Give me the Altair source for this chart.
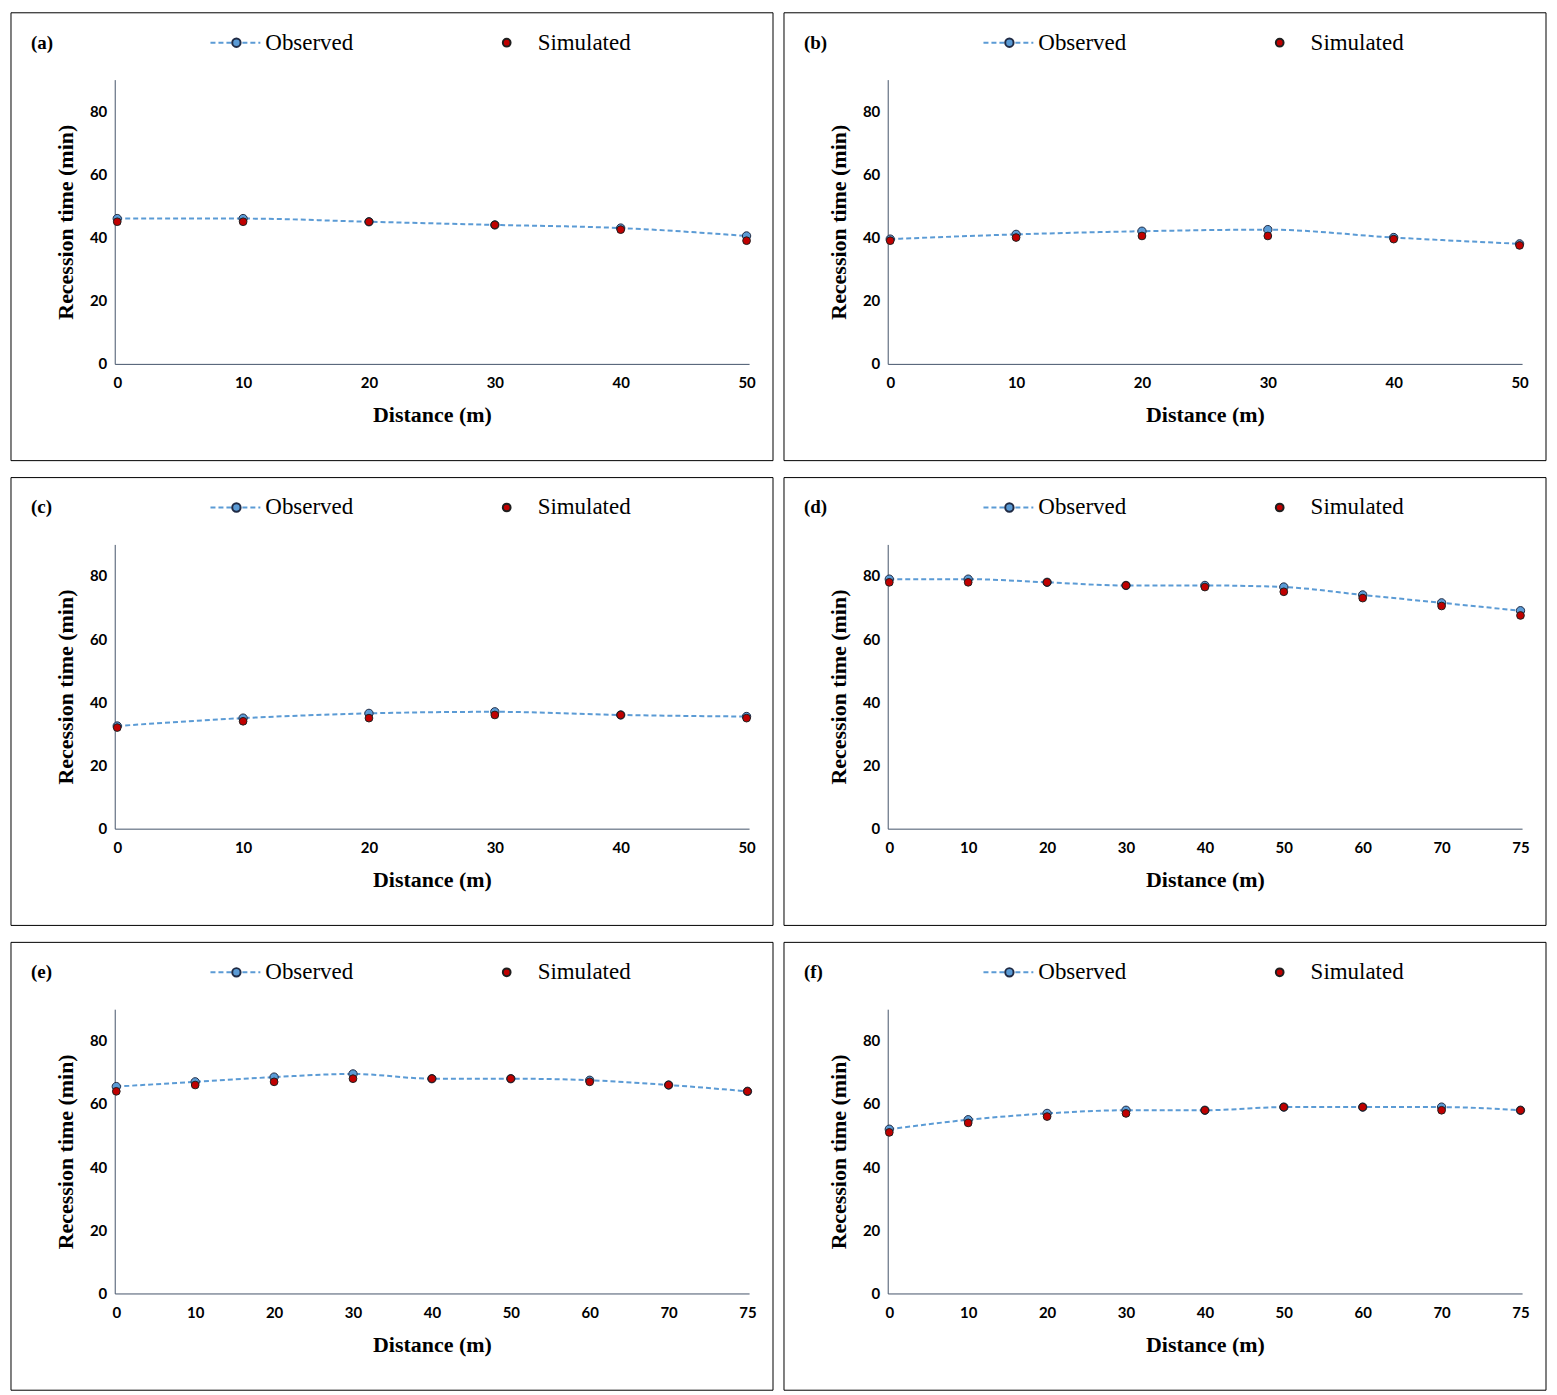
import altair as alt
import pandas as pd

# Valores (minutos de recesión por distancia)
DIST_50 = ["0", "10", "20", "30", "40", "50"]
DIST_75 = ["0", "10", "20", "30", "40", "50", "60", "70", "75"]

OBS_A = [46, 46, 45, 44, 43, 40.5]
SIM_A = [45, 45, 45, 44, 42.5, 39]
OBS_B = [39.5, 41, 42, 42.5, 40, 38]
SIM_B = [39, 40, 40.5, 40.5, 39.5, 37.5]
OBS_C = [32.5, 35, 36.5, 37, 36, 35.5]
SIM_C = [32, 34, 35, 36, 36, 35]
OBS_D = [79, 79, 78, 77, 77, 76.5, 74, 71.5, 69]
SIM_D = [78, 78, 78, 77, 76.5, 75, 73, 70.5, 67.5]
OBS_E = [65.5, 67, 68.5, 69.5, 68, 68, 67.5, 66, 64]
SIM_E = [64, 66, 67, 68, 68, 68, 67, 66, 64]
OBS_F = [52, 55, 57, 58, 58, 59, 59, 59, 58]
SIM_F = [51, 54, 56, 57, 58, 59, 59, 58, 58]

BLUE = "#5b9bd5"
RED = "#c00000"
W, H = 636, 285
SANS = "Lato"
SERIF = "Liberation Serif"


def panel(label, dist, obs, sim):
    df = pd.DataFrame({"d": dist, "obs": obs, "sim": sim})
    x = alt.X("d:O", sort=dist, title="Distance (m)",
              scale=alt.Scale(type="point", padding=0.02),
              axis=alt.Axis(labelAngle=0, ticks=False, domainColor="#44546a",
                            labelFont=SANS, labelFontWeight="bold", labelFontSize=15,
                            labelColor="black", labelPadding=12, titleFont=SERIF,
                            titleFontSize=22, titleFontWeight="bold", titlePadding=14))
    y_axis = alt.Axis(values=list(range(0, 91, 10)), ticks=False, grid=False,
                      labelOverlap=False, domainColor="#44546a", labelFont=SANS,
                      labelFontWeight="bold", labelFontSize=15, labelColor="black",
                      labelPadding=8, titleFont=SERIF, titleFontSize=22,
                      titleFontWeight="bold", titlePadding=12)
    base = alt.Chart(df)
    line = base.mark_line(color=BLUE, strokeDash=[5, 3], strokeWidth=2,
                          interpolate="monotone").encode(
        x=x, y=alt.Y("obs:Q", title="Recession time (min)",
                     scale=alt.Scale(domain=[0, 90]), axis=y_axis))
    pts_o = base.mark_circle(size=70, color=BLUE, opacity=1, stroke="#1f2a44",
                             strokeWidth=1).encode(x=x, y="obs:Q")
    pts_s = base.mark_circle(size=60, color=RED, opacity=1, stroke="#1f1f1f",
                             strokeWidth=1).encode(x=x, y="sim:Q")

    one = pd.DataFrame({"k": [0]})
    lg = alt.Chart(one)
    border = lg.mark_rect(fill=None, stroke="black", strokeWidth=1).encode(
        x=alt.value(-104), x2=alt.value(W + 24), y=alt.value(-67), y2=alt.value(H + 97))
    lbl = lg.mark_text(text=label, font=SERIF, fontWeight="bold", fontSize=19,
                       align="left").encode(x=alt.value(-84), y=alt.value(-37))
    lg_line = lg.mark_rule(color=BLUE, strokeDash=[5, 3], strokeWidth=2).encode(
        x=alt.value(96), x2=alt.value(146), y=alt.value(-37))
    lg_o = lg.mark_circle(size=70, color=BLUE, opacity=1, stroke="#1f2a44").encode(
        x=alt.value(122), y=alt.value(-37))
    lg_ot = lg.mark_text(text="Observed", font=SERIF, fontSize=23, align="left").encode(
        x=alt.value(151), y=alt.value(-37))
    lg_s = lg.mark_circle(size=60, color=RED, opacity=1, stroke="#1f1f1f").encode(
        x=alt.value(393), y=alt.value(-37))
    lg_st = lg.mark_text(text="Simulated", font=SERIF, fontSize=23, align="left").encode(
        x=alt.value(424), y=alt.value(-37))

    return alt.layer(border, line, pts_o, pts_s, lbl, lg_line, lg_o, lg_ot, lg_s,
                     lg_st).properties(width=W, height=H)


row1 = alt.hconcat(panel("(a)", DIST_50, OBS_A, SIM_A),
                   panel("(b)", DIST_50, OBS_B, SIM_B), spacing=9)
row2 = alt.hconcat(panel("(c)", DIST_50, OBS_C, SIM_C),
                   panel("(d)", DIST_75, OBS_D, SIM_D), spacing=9)
row3 = alt.hconcat(panel("(e)", DIST_75, OBS_E, SIM_E),
                   panel("(f)", DIST_75, OBS_F, SIM_F), spacing=9)

chart = (
    alt.vconcat(row1, row2, row3, spacing=15)
    .properties(padding={"left": 2, "top": 2, "right": 2, "bottom": 2})
    .configure_view(stroke=None)
    .configure_axisX(grid=False)
)
chart.save("out.html", embed_options={"renderer": "svg", "actions": False})
